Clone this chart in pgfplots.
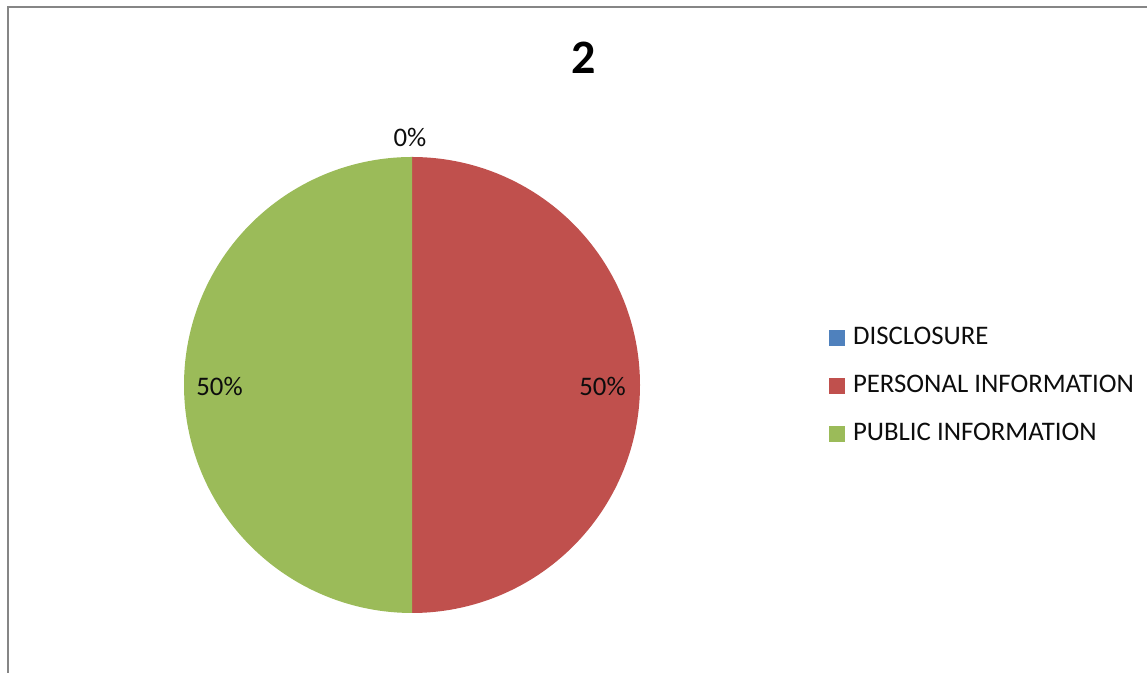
\documentclass[border=0pt]{standalone}
\usepackage{fontspec}
\setmainfont{Carlito}
\usepackage{pgfplots}
\pgfplotsset{compat=1.18}
\definecolor{pblue}{HTML}{4F81BD}
\definecolor{pred}{HTML}{C0504D}
\definecolor{pgreen}{HTML}{9BBB59}
\definecolor{frame}{HTML}{868686}
\definecolor{txt}{HTML}{0D0D0D}
\begin{document}
\begin{tikzpicture}
% slice values (percent)
\pgfmathsetmacro{\vA}{0}   % DISCLOSURE
\pgfmathsetmacro{\vB}{50}  % PERSONAL INFORMATION
\pgfmathsetmacro{\vC}{50}  % PUBLIC INFORMATION
\pgfmathsetmacro{\tot}{\vA+\vB+\vC}
\pgfmathsetmacro{\aA}{90}
\pgfmathsetmacro{\aB}{\aA-360*(\vA/\tot)}
\pgfmathsetmacro{\aC}{\aB-360*(\vB/\tot)}
\pgfmathsetmacro{\aD}{\aC-360*(\vC/\tot)}
\useasboundingbox (0,0) rectangle (573.5pt,336.5pt);
\begin{axis}[at={(0,0)},anchor=south west,scale only axis,
  width=573.5pt,height=336.5pt,xmin=0,xmax=1147,ymin=0,ymax=673,
  hide axis,clip=false,
  legend image code/.code={\fill (0pt,-3.9pt) rectangle (7.8pt,3.9pt);},
  legend style={draw=none,fill=none,inner sep=0pt,
    font=\fontsize{13.4}{16}\selectfont\color{txt},
    anchor=west,at={(0.7228,0.4268)},row sep=12pt,
    nodes={inner sep=0pt, outer sep=0pt, text height=9.5pt, text depth=2.5pt},
    /tikz/every odd column/.append style={column sep=4pt}},
  legend cell align=left]
\addlegendimage{draw=none,fill=pblue}
\addlegendentry{DISCLOSURE}
\addplot[draw=none,fill=pred,domain=\aC:\aB,samples=181]
  ({412+228*cos(x)},{288+228*sin(x)}) -- (axis cs:412,288) -- cycle;
\addlegendentry{PERSONAL INFORMATION}
\addplot[draw=none,fill=pgreen,domain=\aD:\aC,samples=181]
  ({412+228*cos(x)},{288+228*sin(x)}) -- (axis cs:412,288) -- cycle;
\addlegendentry{PUBLIC INFORMATION}
\draw[frame,line width=1pt] (axis cs:8,0) -- (axis cs:8,666) -- (axis cs:1147,666);
\node[font=\fontsize{24}{28}\selectfont\bfseries] at (axis cs:584,615) {2};
\node[font=\fontsize{13.4}{16}\selectfont,text=txt] at (axis cs:410,536) {0\%};
\node[font=\fontsize{13.4}{16}\selectfont,text=txt] at (axis cs:602.5,287) {50\%};
\node[font=\fontsize{13.4}{16}\selectfont,text=txt] at (axis cs:219.5,287) {50\%};
\end{axis}
\end{tikzpicture}
\end{document}
